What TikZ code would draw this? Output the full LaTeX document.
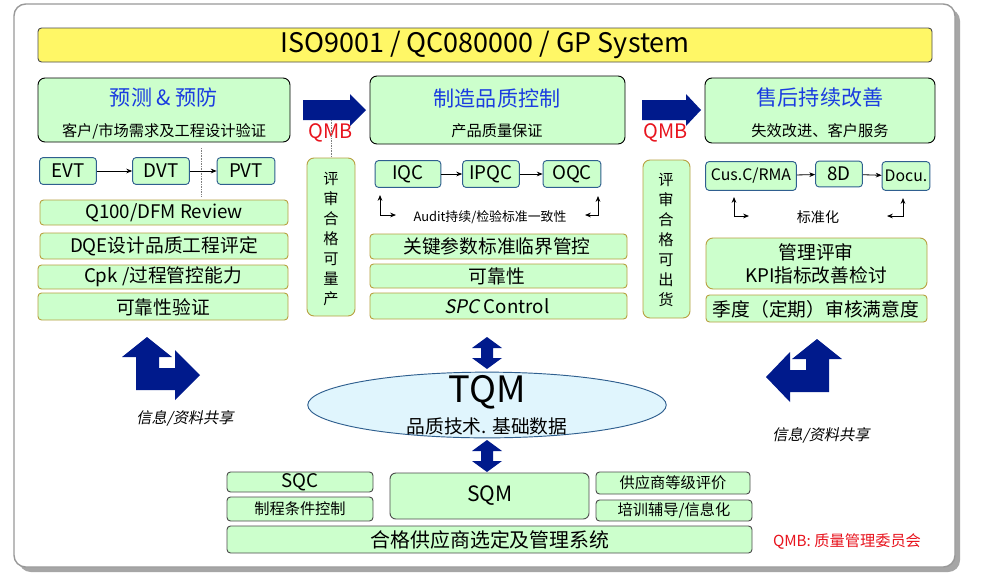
\documentclass[tikz,border=0pt]{standalone}
\usepackage{fontspec}
\setmainfont{Noto Sans CJK SC}
\newfontfamily\slantf{Noto Sans CJK SC}[FakeSlant=0.2]
\usetikzlibrary{shapes.geometric,arrows.meta}
\definecolor{gfill}{HTML}{CCFFCC}
\definecolor{gold}{HTML}{B8A040}
\definecolor{bbord}{HTML}{2F5F8F}
\definecolor{navy}{HTML}{001A8C}
\definecolor{ttl}{HTML}{1A3CE0}
\definecolor{qred}{HTML}{E8141E}
\begin{document}
\begin{tikzpicture}[x=0.03cm,y=-0.03cm,
 big/.style={draw=black,fill=gfill,rounded corners=6pt,line width=0.8pt},
 bar/.style={draw=gold,fill=gfill,rounded corners=3pt,line width=0.8pt},
 blu/.style={draw=bbord,fill=gfill,rounded corners=3pt,line width=0.8pt},
 tt/.style={inner sep=0pt,font=\fontsize{16}{18}\selectfont},
 sm/.style={inner sep=0pt,font=\fontsize{13}{15}\selectfont},
 ar/.style={-{Stealth[length=5pt,width=4pt]},line width=0.7pt},
 na/.style={fill=navy,draw=none}]
\useasboundingbox (0,0) rectangle (1000,574);
\fill[white] (0,0) rectangle (1000,574);
% frame
\fill[gray!70,rounded corners=10pt] (19,9) rectangle (960,572);
\draw[gray!80,fill=white,line width=1.2pt,rounded corners=10pt] (14,4) rectangle (955,567);
% title
\draw[fill=yellow!60,draw=black!70,rounded corners=3pt,line width=0.8pt] (38,28) rectangle (932,62);
\node[inner sep=0pt,font=\fontsize{23}{26}\selectfont] (title) at (485,45) {ISO9001 / QC080000 / GP System};
% big boxes
\draw[big] (38,78) rectangle (290,142);
\node[inner sep=0pt,text=ttl,font=\fontsize{18}{20}\selectfont] (t1) at (164,98) {预测 \& 预防};
\node[sm] (s1) at (164,131) {客户/市场需求及工程设计验证};
\draw[big] (370,76) rectangle (625,144);
\node[inner sep=0pt,text=ttl,font=\fontsize{18}{20}\selectfont] (t2) at (497,98) {制造品质控制};
\node[sm] (s2) at (497,131) {产品质量保证};
\draw[big] (705,78) rectangle (935,143);
\node[inner sep=0pt,text=ttl,font=\fontsize{18}{20}\selectfont] (t3) at (820,98) {售后持续改善};
\node[sm] (s3) at (820,131) {失效改进、客户服务};
% arrows QMB
\fill[na] (303,100) -- (350,100) -- (350,94) -- (366,110) -- (350,126) -- (350,120) -- (303,120) -- cycle;
\fill[na] (642,100) -- (686,100) -- (686,94) -- (701,110) -- (686,126) -- (686,120) -- (642,120) -- cycle;
\node[inner sep=0pt,text=qred,font=\fontsize{17}{19}\selectfont] (q1) at (331,133) {QMB};
\node[inner sep=0pt,text=qred,font=\fontsize{17}{19}\selectfont] (q2) at (666,133) {QMB};
\draw[densely dotted,gray] (331,120) -- (331,158);
\draw[densely dotted,gray] (201,148) -- (201,196);
% vertical boxes
\draw[bar,rounded corners=6pt] (307,158) rectangle (355,316);
\node[sm,align=center,font=\fontsize{13}{17}\selectfont] (v1) at (331,239) {评\\审\\合\\格\\可\\量\\产};
\draw[bar,rounded corners=6pt] (643,160) rectangle (690,318);
\node[sm,align=center,font=\fontsize{13}{17}\selectfont] (v2) at (666,240) {评\\审\\合\\格\\可\\出\\货};
% EVT DVT PVT
\node[blu,tt,minimum width=57*0.85pt,minimum height=27*0.85pt] (evt) at (68,171) {EVT};
\node[blu,tt,minimum width=57*0.85pt,minimum height=27*0.85pt] (dvt) at (161,171) {DVT};
\node[blu,tt,minimum width=58*0.85pt,minimum height=27*0.85pt] (pvt) at (246,171) {PVT};
\draw[ar] (evt) -- (dvt); \draw[ar] (dvt) -- (pvt);
% left bars
\draw[bar] (40,200) rectangle (288,225); \node[tt] (b1) at (164,213) {Q100/DFM Review};
\draw[bar] (40,233) rectangle (288,259); \node[tt] (b2) at (164,246) {DQE设计品质工程评定};
\draw[bar] (38,265) rectangle (288,289); \node[tt] (b3) at (163,277) {Cpk /过程管控能力};
\draw[bar] (38,293) rectangle (288,320); \node[tt] (b4) at (163,307) {可靠性验证};
% middle
\node[blu,tt,minimum width=66*0.85pt,minimum height=27*0.85pt] (iqc) at (408,174) {IQC};
\node[blu,tt,minimum width=57*0.85pt,minimum height=27*0.85pt] (ipqc) at (491,174) {IPQC};
\node[blu,tt,minimum width=58*0.85pt,minimum height=27*0.85pt] (oqc) at (572,174) {OQC};
\draw[ar] (iqc) -- (ipqc); \draw[ar] (ipqc) -- (oqc);
\node[inner sep=0pt,font=\fontsize{11}{13}\selectfont] (aud) at (490,217) {Audit持续/检验标准一致性};
\coordinate (a1) at (380,195); \coordinate (a2) at (396,215);
\draw[ar,{Stealth[length=5pt,width=4pt]}-{Stealth[length=5pt,width=4pt]}] (a1) |- (a2);
\coordinate (a3) at (598,196); \coordinate (a4) at (585,215);
\draw[ar,{Stealth[length=5pt,width=4pt]}-{Stealth[length=5pt,width=4pt]}] (a3) |- (a4);
\draw[bar] (370,234) rectangle (627,259); \node[tt] (m1) at (497,246) {关键参数标准临界管控};
\draw[bar] (370,264) rectangle (627,288); \node[tt] (m2) at (497,276) {可靠性};
\draw[bar] (370,293) rectangle (627,319); \node[tt] (m3) at (497,306) {{\slantf SPC} Control};
% right
\node[blu,sm,font=\fontsize{13.5}{15}\selectfont,minimum width=91*0.85pt,minimum height=29*0.85pt,inner sep=0pt] (cus) at (751,176) {Cus.C/RMA};
\node[blu,tt,minimum width=47*0.85pt,minimum height=26*0.85pt] (d8) at (839,174) {8D};
\node[blu,sm,font=\fontsize{13.5}{15}\selectfont,minimum width=48*0.85pt,minimum height=29*0.85pt,inner sep=0pt] (docu) at (906,176) {Docu.};
\draw[ar] (cus) -- (d8); \draw[ar] (d8) -- (docu);
\node[sm,font=\fontsize{12}{14}\selectfont] (bz) at (818,217) {标准化};
\coordinate (c1) at (734,197); \coordinate (c2) at (749,216);
\draw[ar,{Stealth[length=5pt,width=4pt]}-{Stealth[length=5pt,width=4pt]}] (c1) |- (c2);
\coordinate (c3) at (903,198); \coordinate (c4) at (887,216);
\draw[ar,{Stealth[length=5pt,width=4pt]}-{Stealth[length=5pt,width=4pt]}] (c3) |- (c4);
\draw[bar,rounded corners=6pt] (706,238) rectangle (927,289);
\node[tt,align=center,font=\fontsize{16}{20}\selectfont] (r1) at (816,264) {管理评审\\KPI指标改善检讨};
\draw[bar] (706,295) rectangle (927,322); \node[tt] (r2) at (816,309) {季度（定期）审核满意度};
% TQM
\node[ellipse,draw=bbord,fill=cyan!12,minimum width=360*0.85pt,minimum height=66*0.85pt,line width=0.8pt] (tqm) at (487,405) {};
\node[inner sep=0pt,font=\fontsize{31}{34}\selectfont] (tq) at (487,392) {TQM};
\node[tt] (tqs) at (487,426) {品质技术. 基础数据};
% double arrows
\fill[na] (487,337) -- (502,348) -- (493,348) -- (493,358) -- (502,358) -- (487,369) -- (472,358) -- (481,358) -- (481,348) -- (472,348) -- cycle;
\fill[na] (487,440) -- (502,451) -- (493,451) -- (493,461) -- (502,461) -- (487,472) -- (472,461) -- (481,461) -- (481,451) -- (472,451) -- cycle;
% bent arrows
\fill[na] (147,337) -- (172,357) -- (159,357) -- (159,368) -- (175,368) -- (175,350) -- (200,375) -- (175,400) -- (175,390) -- (136,390) -- (136,357) -- (122,357) -- cycle;
\fill[na] (817,339) -- (842,359) -- (829,359) -- (829,392) -- (790,392) -- (790,402) -- (766,377) -- (790,352) -- (790,370) -- (806,370) -- (806,359) -- (792,359) -- cycle;
\node[inner sep=0pt,font=\fontsize{13}{15}\slantf] (i1) at (185,418) {信息/资料共享};
\node[inner sep=0pt,font=\fontsize{13}{15}\slantf] (i2) at (821,435) {信息/资料共享};
% bottom
\draw[blu,draw=black!70] (227,472) rectangle (373,492); \node[tt] (sqc) at (300,482) {SQC};
\draw[blu,draw=black!70] (227,497) rectangle (373,521); \node[sm] (zc) at (300,509) {制程条件控制};
\draw[blu,draw=black!70,rounded corners=5pt] (390,473) rectangle (589,519); \node[tt,font=\fontsize{18}{20}\selectfont] (sqm) at (490,496) {SQM};
\draw[blu,draw=black!70] (596,472) rectangle (750,494); \node[sm] (gy) at (673,483) {供应商等级评价};
\draw[blu,draw=black!70] (596,500) rectangle (752,521); \node[sm] (px) at (674,510) {培训辅导/信息化};
\draw[blu,draw=black!70] (227,526) rectangle (752,553); \node[tt,font=\fontsize{17}{19}\selectfont] (hg) at (490,540) {合格供应商选定及管理系统};
\node[sm,text=qred] (qn) at (847,541) {QMB: 质量管理委员会};
\end{tikzpicture}
\end{document}
